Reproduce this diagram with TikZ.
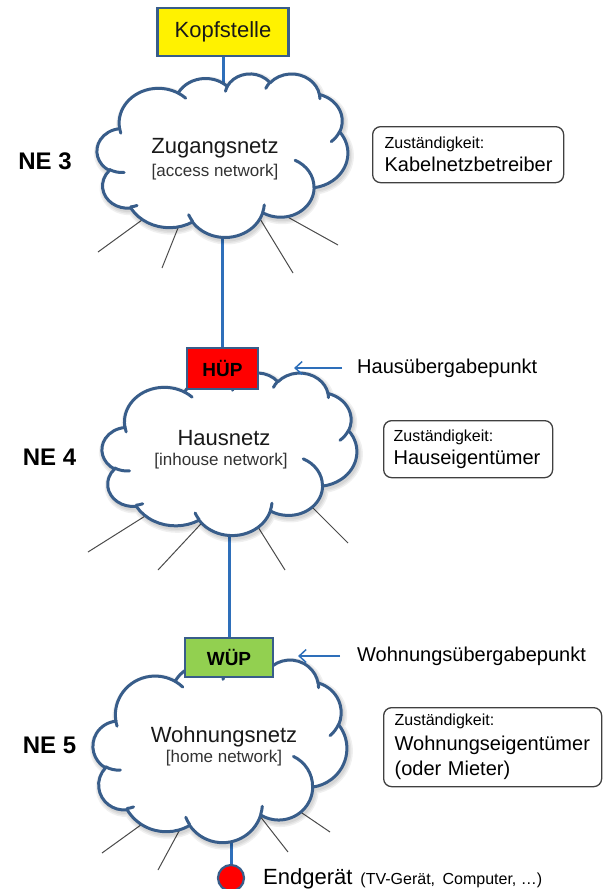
\documentclass[tikz,border=0pt]{standalone}
\usepackage{fontspec}
\setmainfont{Liberation Sans}
\usetikzlibrary{arrows.meta}

\definecolor{shapeline}{HTML}{385D8A}
\definecolor{linkblue}{HTML}{2E6FBA}
\definecolor{wupgreen}{HTML}{92D050}
\definecolor{spokegray}{HTML}{4A4A4A}
\definecolor{boxgray}{HTML}{404040}

\pgfdeclarelayer{bg}
\pgfsetlayers{bg,main}

% Elliptical arc given by radii and visual start angle / sweep,
% converted into a TikZ arc with parametric angles.
\newcommand\mkarc[5]{%
  \pgfmathsetmacro\cldS{atan2((#2)*sin(#4),(#3)*cos(#4))}%
  \pgfmathsetmacro\cldE{atan2((#2)*sin((#4)+(#5)),(#3)*cos((#4)+(#5)))}%
  \pgfmathsetmacro\cldD{(\cldE)-(\cldS)}%
  \pgfmathsetmacro\cldD{ifthenelse((#5)>0,ifthenelse(\cldD<0,\cldD+360,\cldD),ifthenelse(\cldD>0,\cldD-360,\cldD))}%
  \pgfmathsetmacro\cldE{(\cldS)+(\cldD)}%
  \expandafter\xdef\csname cloudarc#1\endcsname{arc[start angle=\cldS,end angle=\cldE,x radius=#2,y radius=#3]}%
}
% outline puffs (cloud drawn in a 432 x 432 box)
\mkarc{A}{67.53}{91.90}{-190.4875}{123.7805}
\mkarc{B}{53.33}{72.67}{-144.1024}{89.9452}
\mkarc{C}{43.65}{59.45}{-145.8079}{99.7230}
\mkarc{D}{48.57}{65.95}{-130.9861}{117.2417}
\mkarc{E}{53.33}{72.73}{-78.7089}{109.0269}
\mkarc{F}{67.75}{92.20}{-46.2673}{130.2690}
\mkarc{G}{57.85}{78.67}{0.6250}{114.0333}
\mkarc{H}{67.52}{92.15}{22.4516}{115.1726}
\mkarc{I}{77.20}{105.43}{66.2426}{74.8854}
\mkarc{J}{43.60}{59.18}{-274.9421}{146.7356}
\mkarc{K}{43.45}{59.45}{-246.8285}{152.5189}
% inner creases
\mkarc{a}{43.45}{59.45}{86.7420}{26.4295}
\mkarc{b}{43.60}{59.18}{73.6105}{11.4475}
\mkarc{c}{67.52}{92.15}{137.6242}{14.0811}
\mkarc{d}{67.52}{92.15}{6.4533}{15.9984}
\mkarc{e}{57.85}{78.67}{-70.2924}{70.9174}
\mkarc{f}{53.33}{72.73}{30.3180}{27.7515}
\mkarc{g}{48.57}{65.95}{-13.7443}{14.8589}
\mkarc{h}{48.57}{65.95}{-149.1815}{18.1954}
\mkarc{i}{43.65}{59.45}{-163.4943}{17.6864}
\mkarc{j}{67.53}{91.90}{-66.7070}{12.3194}
\mkarc{k}{67.53}{91.90}{157.6544}{11.8582}

\newcommand\cloudoutline{(39.00,143.70) \cloudarcA \cloudarcB \cloudarcC \cloudarcD \cloudarcE \cloudarcF \cloudarcG \cloudarcH \cloudarcI \cloudarcJ \cloudarcK -- cycle}
\newcommand\cloudinner{(46.93,261.77) \cloudarca (69.28,348.99) \cloudarcb (164.78,390.90) \cloudarcc (288.27,347.51) \cloudarcd (341.29,229.54) \cloudarce (417.98,153.54) \cloudarcf (383.24,54.26) \cloudarcg (290.78,39.52) \cloudarch (221.41,47.20) \cloudarci (140.00,51.92) \cloudarcj (41.27,157.89) \cloudarck}

% draws the cloud into the box of node #1 (width #2, height #3)
\newcommand\drawcloud[3]{%
  \begin{scope}[shift={(#1.north west)}, shift={(1.5,2.5)}, xscale=#2/432, yscale=#3/432]
    \foreach \w in {9,6,3}
      \draw[black, opacity=0.06, line width=\w pt, line join=round] \cloudoutline;
  \end{scope}
  \begin{scope}[shift={(#1.north west)}, xscale=#2/432, yscale=#3/432]
    \filldraw[fill=white, draw=shapeline, line width=3pt, line join=round] \cloudoutline;
    \draw[shapeline, line width=3pt, line cap=round] \cloudinner;
  \end{scope}}

\begin{document}
\begin{tikzpicture}[x=1pt,y=-1pt,
  every node/.style={inner sep=0pt},
  ptbox/.style={rectangle, draw=shapeline, line width=2.2pt},
  cloudnode/.style={rectangle, inner sep=0pt},
  ttl/.style={font=\fontsize{22}{26}\selectfont, text=black!90},
  subttl/.style={font=\fontsize{17}{20}\selectfont, text=black!80},
  nelabel/.style={font=\fontsize{24}{28}\selectfont\bfseries},
  link/.style={draw=linkblue, line width=3pt},
  pointer/.style={draw=linkblue, line width=1.5pt, -{Straight Barb[length=7pt,width=13pt]}},
  spoke/.style={draw=spokegray, line width=1pt, shorten <=-10pt},
  respbox/.style={draw=boxgray, line width=1.3pt, rounded corners=8pt, anchor=north west, align=left},
  ptlabel/.style={font=\fontsize{20}{24}\selectfont, anchor=west}
]
\useasboundingbox (0,0) rectangle (609,889);

% cloud areas
\node[cloudnode, minimum width=251, minimum height=163.5] (c1) at (222.5,155.35) {};
\node[cloudnode, minimum width=255, minimum height=162.5] (c2) at (229.5,453.95) {};
\node[cloudnode, minimum width=254, minimum height=182.6] (c3) at (220,750.9) {};

% head end and end device
\node[ptbox, fill=yellow, minimum width=131, minimum height=48, ttl] (kopf) at (223,32) {Kopfstelle};
\node[circle, draw=shapeline, line width=2.2pt, fill=red, minimum size=26] (dev) at (231,878) {};

% connectors and spokes behind the clouds
\begin{pgfonlayer}{bg}
  \coordinate (hupc) at (222.5,368.5);
  \coordinate (wupc) at (229,657.5);
  \draw[link] (kopf) -- (kopf |- c1.center);
  \draw[link] (hupc |- c1.center) -- (hupc);
  \draw[link] (wupc |- c2.center) -- (wupc);
  \draw[link] (dev |- c3.center) -- (dev);
  \draw[spoke] (142,220) -- (98,252);
  \draw[spoke] (178,228) -- (162,268);
  \draw[spoke] (265,227) -- (293,273);
  \draw[spoke] (293,220) -- (338,245);
  \draw[spoke] (142,518) -- (88,552);
  \draw[spoke] (198,527) -- (158,570);
  \draw[spoke] (258,527) -- (285,570);
  \draw[spoke] (312,507) -- (348,543);
  \draw[spoke] (138,827) -- (102,853);
  \draw[spoke] (178,833) -- (158,870);
  \draw[spoke] (263,820) -- (288,852);
  \draw[spoke] (302,813) -- (330,832);
\end{pgfonlayer}

\drawcloud{c1}{251}{163.5}
\drawcloud{c2}{255}{162.5}
\drawcloud{c3}{254}{182.6}

% transfer points, drawn above the clouds
\node[ptbox, fill=red, minimum width=71, minimum height=41, font=\fontsize{19}{22}\selectfont\bfseries] (hup) at (hupc) {HÜP};
\node[ptbox, fill=wupgreen, minimum width=88, minimum height=39, font=\fontsize{19}{22}\selectfont\bfseries] (wup) at (wupc) {WÜP};

% cloud texts
\node[ttl] (t1) at (215,148) {Zugangsnetz};
\node[subttl] (s1) at (215,172) {[access network]};
\node[ttl] (t2) at (224,438) {Hausnetz};
\node[subttl] (s2) at (221,461) {[inhouse network]};
\node[ttl] (t3) at (224,737) {Wohnungsnetz};
\node[subttl] (s3) at (224,758) {[home network]};

% network levels
\node[nelabel] (ne3) at (45,161) {NE 3};
\node[nelabel] (ne4) at (49.5,457) {NE 4};
\node[nelabel] (ne5) at (49.5,745) {NE 5};

% responsibilities
\node[respbox, minimum height=56, text width=167, inner xsep=12, font=\fontsize{20}{23}\selectfont] (r1) at (372,126)
  {{\fontsize{16}{23}\selectfont Zuständigkeit:}\\Kabelnetzbetreiber};
\node[respbox, minimum height=57, text width=149, inner xsep=10, font=\fontsize{20}{23}\selectfont] (r2) at (383,420)
  {{\fontsize{16}{23}\selectfont Zuständigkeit:}\\Hauseigentümer};
\node[respbox, minimum height=79, text width=196, inner xsep=11, font=\fontsize{20}{25}\selectfont] (r3) at (383,707)
  {{\fontsize{16}{25}\selectfont Zuständigkeit:}\\Wohnungseigentümer\\(oder Mieter)};

% transfer point labels
\node[ptlabel] (hlab) at (357,368) {Hausübergabepunkt};
\node[ptlabel] (wlab) at (357,656) {Wohnungsübergabepunkt};
\draw[pointer, shorten <=15pt, shorten >=35pt] (hlab.west) -- (hup.east |- hlab.west);
\draw[pointer, shorten <=17pt, shorten >=24pt] (wlab.west) -- (wup.east |- wlab.west);

% end device
\node[anchor=west] (devlab) at (263,879)
  {{\fontsize{22}{26}\selectfont Endgerät}\hspace{8pt}{\fontsize{16}{19}\selectfont (TV-Gerät,\hspace{3pt} Computer, …)}};
\end{tikzpicture}
\end{document}
